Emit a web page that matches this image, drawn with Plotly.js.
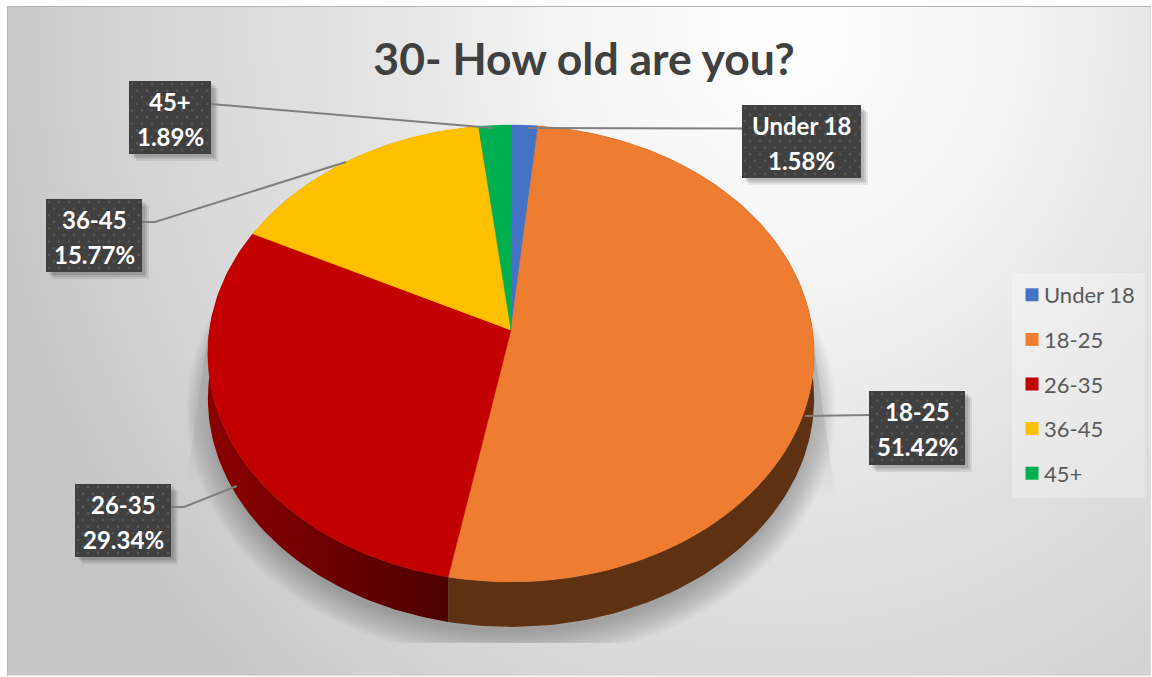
<!DOCTYPE html>
<html><head><meta charset="utf-8">
<script src="https://cdn.plot.ly/plotly-3.0.1.min.js"></script>
<style>
html,body{margin:0;padding:0;background:#fff;overflow:hidden}
#frame{position:absolute;left:7px;top:6px;width:1142px;height:668px;border:1px solid #b4b4b4;border-right-color:#ddd;border-bottom-color:#ddd;
background:radial-gradient(ellipse 850px 950px at 68% 3%,#ffffff 0%,#f5f5f5 25%,#e3e3e3 50%,#d6d6d6 75%,#c6c6c6 95%)}
#chart{position:absolute;left:0;top:0;width:1152px;height:677px}
</style></head><body>
<div id="frame"></div><div id="chart"></div>
<script>
// ---- data ----
var categories = ['Under 18','18-25','26-35','36-45','45+'];
var shares = [1.58,51.42,29.34,15.77,1.89];
var sliceColors = ['#4472c4','#ef7d31','#c20000','#ffc000','#00b050'];
var rimLeftColors = ['#2a4a80','#5e3113','#8c0000','#a07800','#007030'];
var rimRightColors = ['#2a4a80','#5e3113','#4c0000','#a07800','#007030'];
var chartTitle = '30- How old are you?';

// ---- 3D pie projection (layout only) ----
var CX=511, CY=330, RX=301.5, RY=226, PERSP=0.1028, DEPTH=45;
function project(theta, grow, dy){
  var u=Math.sin(theta), v=Math.cos(theta), s=1/(1+PERSP*v);
  return [CX+(RX+grow)*u*s, CY+dy-(RY+grow)*v*s];
}
var total = shares.reduce(function(a,b){return a+b;},0);
var traces=[];

// floor shadow
function shadowLayer(g){
  var xs=[],ys=[];
  for(var i=0;i<=180;i++){var p=project(i/180*2*Math.PI,g,DEPTH+10);xs.push(p[0]);ys.push(Math.min(p[1],643));}
  return {x:xs,y:ys,mode:'lines',line:{width:0},fill:'toself',fillcolor:'rgba(0,0,0,0.014)',hoverinfo:'skip',showlegend:false};
}
for(var g=-4;g<=22;g+=1.6) traces.push(shadowLayer(g));
function taper(xs,ys){
  return {x:xs,y:ys,mode:'lines',line:{width:0},fill:'toself',hoverinfo:'skip',showlegend:false,
    fillgradient:{type:'vertical',colorscale:[[0,'rgba(170,170,170,0)'],[1,'rgba(170,170,170,1)']]}};
}
traces.push(taper([208,186,262,240],[335,485,485,335]));
traces.push(taper([812,836,770,780],[335,498,498,335]));

// slices: rim first, then top faces
function arc(i){
  var before=shares.slice(0,i).reduce(function(a,b){return a+b;},0);
  var a0=before/total*2*Math.PI, a1=(before+shares[i])/total*2*Math.PI, n=Math.max(6,Math.round(shares[i]*3)), out=[];
  for(var k=0;k<=n;k++) out.push(a0+(a1-a0)*k/n);
  return out;
}
categories.forEach(function(c,i){
  var xs=[],ys=[],ang=arc(i);
  ang.forEach(function(t){var p=project(t,0,0);xs.push(p[0]);ys.push(p[1]);});
  ang.slice().reverse().forEach(function(t){var p=project(t,0,DEPTH);xs.push(p[0]);ys.push(p[1]);});
  traces.push({x:xs,y:ys,mode:'lines',line:{width:0},fill:'toself',hoverinfo:'skip',showlegend:false,
    fillgradient:{type:'horizontal',colorscale:[[0,rimLeftColors[i]],[1,rimRightColors[i]]]}});
});
categories.forEach(function(c,i){
  var xs=[CX],ys=[CY];
  arc(i).forEach(function(t){var p=project(t,0,0);xs.push(p[0]);ys.push(p[1]);});
  xs.push(CX);ys.push(CY);
  traces.push({x:xs,y:ys,mode:'lines',line:{width:0.5,color:sliceColors[i]},fill:'toself',fillcolor:sliceColors[i],
    name:c,text:c+': '+shares[i]+'%',hoverinfo:'text',showlegend:false});
});

// leader lines
var leaderX=[[742,528],[869,805],[171,184,237],[142,155,346],[211,493]];
var leaderY=[[128.5,128],[415,416],[507,507,486],[222,222,162],[104,128]];
leaderX.forEach(function(lx,i){
  traces.push({x:lx,y:leaderY[i],mode:'lines',line:{color:'#7f7f7f',width:2},hoverinfo:'skip',showlegend:false});
});

// data-label boxes
var boxes=[[742,861,105,178],[869,965,391,465],[75,171,484,557],[46,142,199,272],[129,211,81,154]];
var shapes=[{type:'rect',layer:'below',x0:1012,x1:1145,y0:273,y1:498,fillcolor:'rgba(255,255,255,0.28)',line:{width:0}}];
var annotations=[];
var dotX=[],dotY=[];
boxes.forEach(function(b,i){
  [[3,.10],[5,.10],[7,.08]].forEach(function(o){
    shapes.push({type:'rect',layer:'below',x0:b[0]+o[0],x1:b[1]+o[0],y0:b[2]+o[0],y1:b[3]+o[0],fillcolor:'rgba(0,0,0,'+o[1]+')',line:{width:0}});
  });
  shapes.push({type:'rect',layer:'below',x0:b[0],x1:b[1],y0:b[2],y1:b[3],fillcolor:'#404040',line:{width:0}});
  var row=0;
  for(var y=b[2]+3;y<b[3];y+=6.6,row++){
    for(var x=b[0]+(row%2?8:3);x<b[1];x+=10){dotX.push(x);dotY.push(y);}
  }
  var mx=(b[0]+b[1])/2;
  [[categories[i],b[2]+20],[shares[i].toFixed(2)+'%',b[2]+55]].forEach(function(t){
    annotations.push({x:mx,y:t[1],xref:'x',yref:'y',text:t[0],showarrow:false,xanchor:'center',yanchor:'middle',
      font:{family:'Lato',size:24,color:'#ffffff',weight:700}});
  });
});
traces.push({x:dotX,y:dotY,mode:'markers',marker:{symbol:'square',size:2.4,color:'#565656'},hoverinfo:'skip',showlegend:false});

// legend entries
categories.forEach(function(c,i){
  traces.push({x:[null],y:[null],mode:'markers',name:c,legendgroup:c,
    marker:{symbol:'square',size:13,color:sliceColors[i]},hoverinfo:'skip',showlegend:true});
});

var layout={
  width:1152,height:677,margin:{l:0,r:0,t:0,b:0},
  paper_bgcolor:'rgba(0,0,0,0)',plot_bgcolor:'rgba(0,0,0,0)',
  title:{text:'<b>'+chartTitle+'</b>',x:0.507,xanchor:'center',y:0.9125,yanchor:'middle',font:{family:'Lato',size:44.5,color:'#404040'}},
  xaxis:{range:[0,1152],visible:false,fixedrange:true},
  yaxis:{range:[677,0],visible:false,fixedrange:true},
  legend:{x:1004/1152,y:1-274/677,xanchor:'left',yanchor:'top',bgcolor:'rgba(0,0,0,0)',borderwidth:0,
    traceorder:'grouped',tracegroupgap:13,font:{family:'Lato',size:22,color:'#595959'}},
  shapes:shapes,annotations:annotations,hovermode:'closest',showlegend:true
};
Plotly.newPlot('chart',traces,layout,{displayModeBar:false,responsive:false}).then(function(gd){
  gd.querySelectorAll('.legend .legendsymbols').forEach(function(el){el.setAttribute('transform','translate(8,0)');});
});
</script></body></html>
